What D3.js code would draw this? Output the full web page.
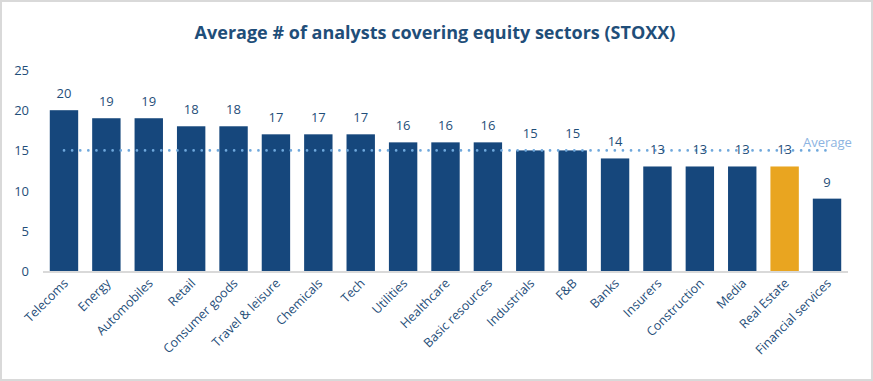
<!DOCTYPE html>
<html lang="en">
<head>
<meta charset="utf-8">
<title>Analysts per sector</title>
<style>
  body { margin: 0; background: #ffffff; overflow: hidden; font-family: "Open Sans", "Noto Sans", sans-serif; }
  #chart { width: 873px; height: 381px; }
</style>
</head>
<body>
<div id="chart"></div>
<script src="https://cdn.jsdelivr.net/npm/d3@7"></script>
<script>
var sectors = ["Telecoms", "Energy", "Automobiles", "Retail", "Consumer goods", "Travel & leisure",
  "Chemicals", "Tech", "Utilities", "Healthcare", "Basic resources", "Industrials", "F&B",
  "Banks", "Insurers", "Construction", "Media", "Real Estate", "Financial services"];
var analysts = [20, 19, 19, 18, 18, 17, 17, 17, 16, 16, 16, 15, 15, 14, 13, 13, 13, 13, 9];
var highlight = ["Real Estate"];
var average = 15;
var yTicks = [0, 5, 10, 15, 20, 25];

var W = 873, H = 381;
var navy = "#16477c", orange = "#e9a520", textBlue = "#1f4e79";

var svg = d3.select("#chart").append("svg")
  .attr("width", W)
  .attr("height", H);

// frame
svg.append("rect")
  .attr("x", 1).attr("y", 1)
  .attr("width", W - 2).attr("height", H - 2)
  .style("fill", "#ffffff")
  .style("stroke", "#d9d9d9")
  .style("stroke-width", 2);

svg.append("text")
  .attr("x", 435).attr("y", 39)
  .attr("text-anchor", "middle")
  .style("font-size", "18px")
  .style("font-weight", "bold")
  .style("fill", textBlue)
  .text("Average # of analysts covering equity sectors (STOXX)");

var x = d3.scaleBand().domain(sectors).range([43, 848]).paddingInner(0.33).paddingOuter(0.16);
var y = d3.scaleLinear().domain([0, 25]).range([271, 70]);

// y axis labels
svg.selectAll(".ytick").data(yTicks).enter().append("text")
  .attr("class", "ytick")
  .attr("x", 29)
  .attr("y", function(d) { return y(d) + 5; })
  .attr("text-anchor", "end")
  .style("font-size", "13px")
  .style("fill", textBlue)
  .text(function(d) { return d; });

// bars
svg.selectAll(".bar").data(sectors).enter().append("rect")
  .attr("class", "bar")
  .attr("x", function(d) { return x(d); })
  .attr("y", function(d, i) { return y(analysts[i]); })
  .attr("width", x.bandwidth())
  .attr("height", function(d, i) { return y(0) - y(analysts[i]); })
  .style("fill", function(d) { return highlight.indexOf(d) >= 0 ? orange : navy; });

// baseline
svg.append("line")
  .attr("x1", 43).attr("x2", 848)
  .attr("y1", y(0) + 1).attr("y2", y(0) + 1)
  .style("stroke", "#d9d9d9")
  .style("stroke-width", 2);

// average line
svg.append("line")
  .attr("x1", x(sectors[0]) + x.bandwidth() / 2)
  .attr("x2", x(sectors[sectors.length - 1]) + x.bandwidth() / 2)
  .attr("y1", y(average)).attr("y2", y(average))
  .style("stroke", "#6fa8dc")
  .style("stroke-width", 2.6)
  .style("stroke-linecap", "round")
  .style("stroke-dasharray", "0.1 8");

svg.append("text")
  .attr("x", 803).attr("y", y(average) - 3)
  .style("font-size", "13px")
  .style("fill", "#8db4e2")
  .text("Average");

// value labels
svg.selectAll(".val").data(sectors).enter().append("text")
  .attr("class", "val")
  .attr("x", function(d) { return x(d) + x.bandwidth() / 2; })
  .attr("y", function(d, i) { return y(analysts[i]) - 12; })
  .attr("text-anchor", "middle")
  .style("font-size", "13px")
  .style("fill", textBlue)
  .text(function(d, i) { return analysts[i]; });

// category labels
svg.selectAll(".cat").data(sectors).enter().append("text")
  .attr("class", "cat")
  .attr("text-anchor", "end")
  .attr("transform", function(d) {
    return "translate(" + (x(d) + x.bandwidth() / 2 + 5) + "," + (y(0) + 13) + ") rotate(-45)";
  })
  .style("font-size", "12.5px")
  .style("fill", textBlue)
  .text(function(d) { return d; });
</script>
</body>
</html>
